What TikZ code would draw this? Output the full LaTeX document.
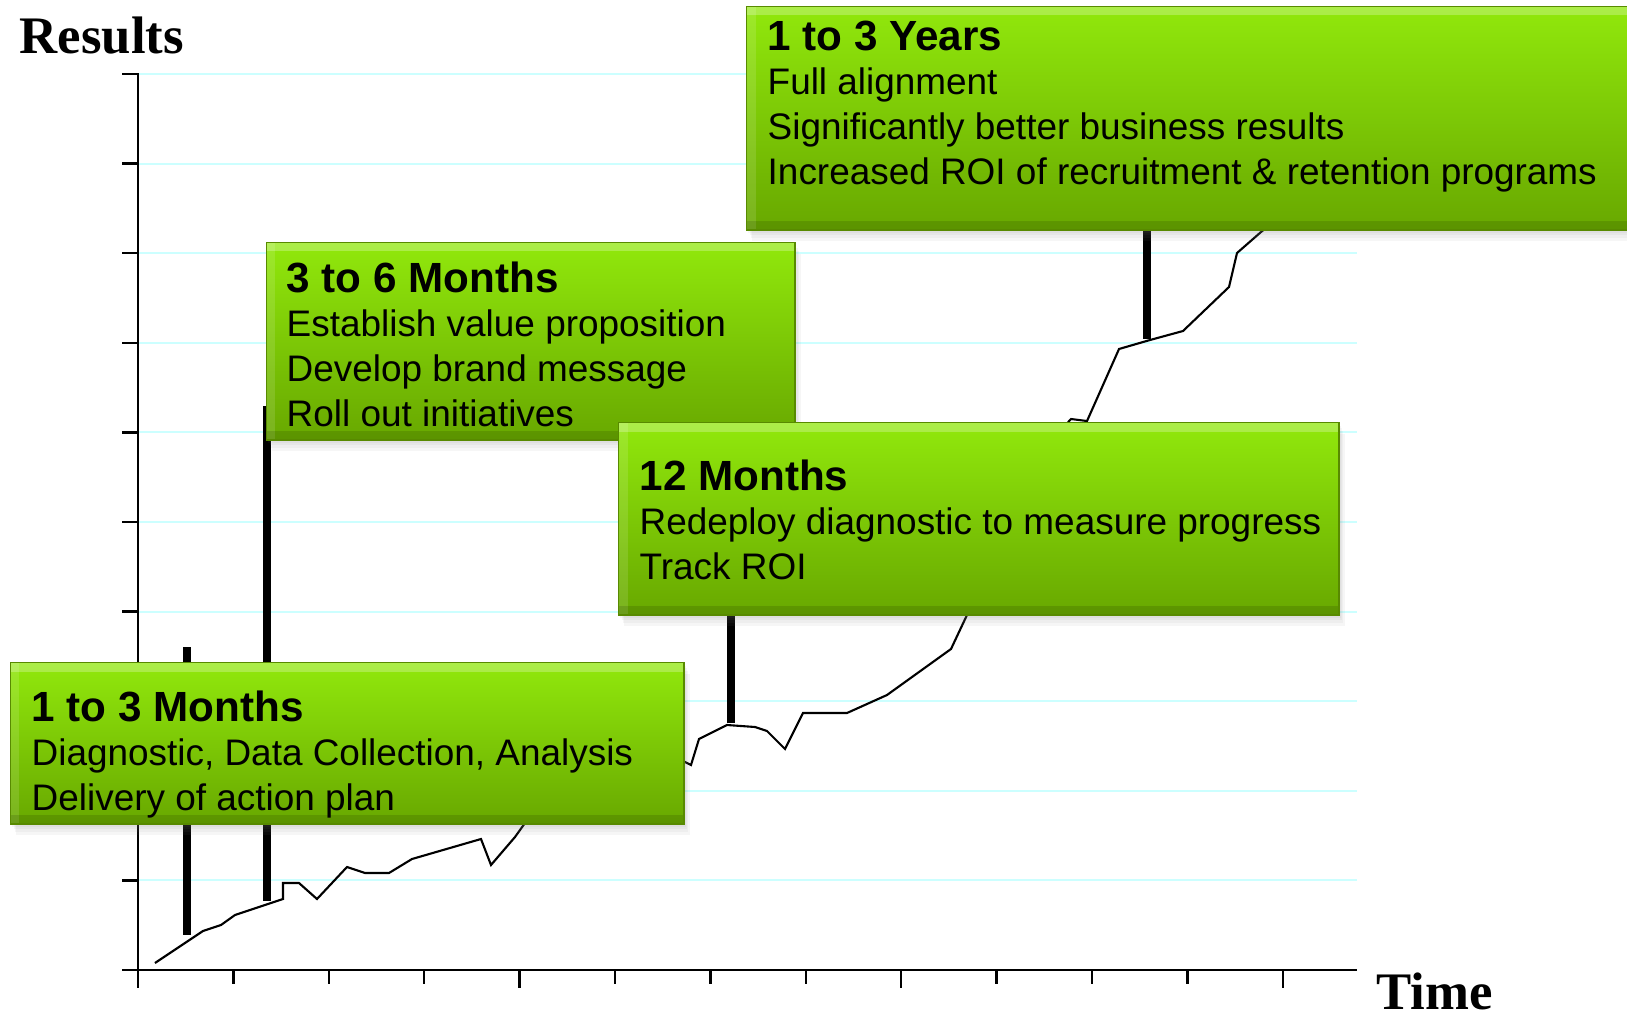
\documentclass[tikz,border=0pt]{standalone}
\usepackage{fontspec}
\setmainfont{Liberation Serif}
\setsansfont{Liberation Sans}
\usetikzlibrary{calc}
\usetikzlibrary{shadows}
\usetikzlibrary{positioning}

\definecolor{gridcyan}{RGB}{204,255,255}
\definecolor{boxtop}{RGB}{145,232,12}
\definecolor{boxbot}{RGB}{104,168,0}
\definecolor{boxrim}{RGB}{88,138,0}

\begin{document}
\begin{tikzpicture}
  [
    x=0.01cm, y=-0.01cm,
    gridline/.style = {gridcyan, line width=0.6pt},
    axis/.style     = {line width=0.7pt},
    stalk/.style    = {line width=2.5pt},
    trend/.style    = {line width=0.6pt},
    softshadow/.style = {
      drop shadow={opacity=0.07, shadow xshift=0.4pt, shadow yshift=-0.8pt},
      drop shadow={opacity=0.07, shadow xshift=0.8pt, shadow yshift=-1.6pt},
      drop shadow={opacity=0.07, shadow xshift=1.2pt, shadow yshift=-2.4pt},
      drop shadow={opacity=0.07, shadow xshift=1.6pt, shadow yshift=-3.2pt}},
    stagebox/.style = {rectangle, anchor=north west, inner sep=0pt,
                       top color=boxtop, bottom color=boxbot,
                       draw=boxrim, line width=0.4pt, softshadow,
                       path picture={
                         \fill[white, opacity=0.25] (path picture bounding box.north west) rectangle ([yshift=-2.5pt]path picture bounding box.north east);
                         \fill[white, opacity=0.12] (path picture bounding box.north west) rectangle ([xshift=2.5pt]path picture bounding box.south west);
                         \fill[black, opacity=0.12] ([yshift=2.5pt]path picture bounding box.south west) rectangle (path picture bounding box.south east);
                       }},
    stagetext/.style = {anchor=north west, inner sep=0pt, align=left,
                        font=\sffamily\fontsize{10.5}{12.7}\selectfont},
    axislabel/.style = {anchor=base west, inner sep=0pt,
                        font=\rmfamily\bfseries\fontsize{15}{18}\selectfont},
  ]

  \useasboundingbox (0,0) rectangle (1627,1015);

  % grid and axes
  \def\xstep{95.4}
  \def\ystep{89.6}

  \foreach \k in {0,...,9}
    \draw[gridline] (138,{74+\ystep*\k}) -- (1357,{74+\ystep*\k});
  \foreach \k in {1,...,9}
    \draw[axis] (122,{74+\ystep*\k}) -- (138,{74+\ystep*\k});
  \draw[axis] (122,74) -- (138,74) -- (138,988);
  \draw[axis] (122,970) -- (1357,970);
  \foreach \k in {1,2,3,5,6,7,9,10,11}
    \draw[axis] ({138+\xstep*\k},970) -- ({138+\xstep*\k},984);
  \foreach \k in {4,8,12}
    \draw[axis] ({138+\xstep*\k},970) -- ({138+\xstep*\k},988);

  \node[axislabel] (results) at (19,53) {Results};
  \node[axislabel] (time) at (1376,1009) {Time};

  % the results curve
  \draw[trend] (155,963) -- (203,931) -- (221,925) -- (235,915) -- (283,899)
    -- (283,883) -- (299,883) -- (317,899) -- (347,867) -- (365,873)
    -- (389,873) -- (412,859) -- (481,839) -- (491,865) -- (515,837)
    -- (525,823) -- (570,800) -- (630,780) -- (683,761) -- (691,765)
    -- (699,739) -- (727,725) -- (755,727) -- (767,731) -- (785,749)
    -- (803,713) -- (847,713) -- (887,695) -- (951,649) -- (967,615)
    -- (1000,550) -- (1040,470) -- (1069,421) -- (1071,419) -- (1087,421)
    -- (1119,349) -- (1150,340) -- (1183,331) -- (1229,287) -- (1237,253)
    -- (1261,232) -- (1300,200);

  % milestone stalks
  \coordinate (m1-top)   at (187,647);
  \coordinate (m1-foot)  at (187,935);
  \coordinate (m3-top)   at (267,406);
  \coordinate (m3-foot)  at (267,901);
  \coordinate (m12-top)  at (731,614);
  \coordinate (m12-foot) at (731,723);
  \coordinate (y1-top)   at (1147,229);
  \coordinate (y1-foot)  at (1147,339);

  \draw[stalk] (m1-top) -- (m1-foot);
  \draw[stalk] (m3-top) -- (m3-foot);
  \draw[stalk] (m12-top) -- (m12-foot);
  \draw[stalk] (y1-top) -- (y1-foot);

  % stage boxes
  \node[stagebox, minimum width=5.28cm, minimum height=1.97cm] (months3box) at (266,242) {};
  \node[stagetext] (months3) at ($(months3box.north west)+(20,19)$)
    {{\bfseries\fontsize{12}{12.7}\selectfont 3 to 6 Months}\\
     Establish value proposition\\
     Develop brand message\\
     Roll out initiatives};

  \node[stagebox, minimum width=7.20cm, minimum height=1.92cm] (months12box) at (618,422) {};
  \node[stagetext] (months12) at ($(months12box.north west)+(21,37)$)
    {{\bfseries\fontsize{12}{12.7}\selectfont 12 Months}\\
     Redeploy diagnostic to measure progress\\
     Track ROI};

  \node[stagebox, minimum width=6.73cm, minimum height=1.61cm] (months1box) at (10,662) {};
  \node[stagetext] (months1) at ($(months1box.north west)+(21,28)$)
    {{\bfseries\fontsize{12}{12.7}\selectfont 1 to 3 Months}\\
     Diagnostic, Data Collection, Analysis\\
     Delivery of action plan};

  \node[stagebox, minimum width=8.80cm, minimum height=2.23cm] (years1box) at (746,6) {};
  \node[stagetext] (years1) at ($(years1box.north west)+(21,14)$)
    {{\bfseries\fontsize{12}{12.7}\selectfont 1 to 3 Years}\\
     Full alignment\\
     Significantly better business results\\
     Increased ROI of recruitment \& retention programs};

\end{tikzpicture}
\end{document}
